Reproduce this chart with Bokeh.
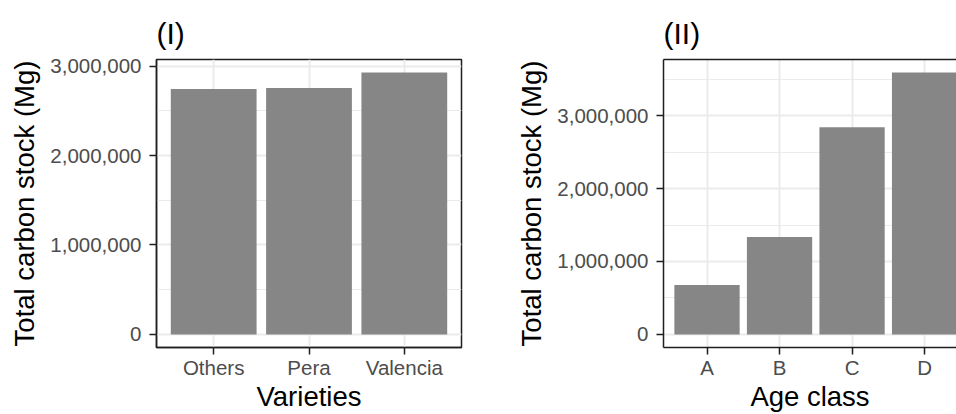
from bokeh.plotting import figure
from bokeh.layouts import row
from bokeh.models import Range1d, FixedTicker, NumeralTickFormatter, LinearAxis
from bokeh.embed import file_html
from bokeh.resources import INLINE

# ---- data ----
varieties = ["Others", "Pera", "Valencia"]
variety_stock = [2745000, 2756000, 2928000]

age_classes = ["A", "B", "C", "D"]
age_stock = [677000, 1334000, 2842000, 3590000]

y_ticks_1 = [0, 1000000, 2000000, 3000000]
y_minor_1 = [500000, 1500000, 2500000]
y_ticks_2 = [0, 1000000, 2000000, 3000000]
y_minor_2 = [500000, 1500000, 2500000, 3500000]

y_title = "Total carbon stock (Mg)"

FONT = "Liberation Sans"
BAR = "#868686"
GRID = "#EBEBEB"
DARK = "#1f1f1f"
H = 414


def panel(title, cats, vals, xlabel, yt, ym, width, left, right, x_end, outline):
    xs = list(range(1, len(cats) + 1))
    ymax = max(vals)
    p = figure(width=width, height=H,
               x_range=Range1d(0.4, x_end),
               y_range=Range1d(-0.05 * ymax, 1.05 * ymax),
               output_backend="svg", toolbar_location=None,
               min_border_left=left, min_border_right=right,
               min_border_top=59, min_border_bottom=66)
    p.background_fill_color = "white"
    p.border_fill_color = "white"
    p.vbar(x=xs, top=vals, bottom=0, width=0.9, fill_color=BAR, line_color=None)

    p.xaxis.ticker = FixedTicker(ticks=xs)
    p.xaxis.major_label_overrides = {x: c for x, c in zip(xs, cats)}
    p.yaxis.ticker = FixedTicker(ticks=yt, minor_ticks=ym)
    p.yaxis.formatter = NumeralTickFormatter(format="0,0")

    p.xaxis.axis_label = xlabel
    p.yaxis.axis_label = y_title
    for ax in p.axis:
        ax.major_tick_out = 7
        ax.major_tick_in = 0
        ax.minor_tick_out = 0
        ax.minor_tick_in = 0
        ax.major_tick_line_color = DARK
        ax.major_tick_line_width = 1.5
        ax.axis_line_color = DARK
        ax.axis_line_width = 1.5
        ax.major_label_text_font = FONT
        ax.major_label_text_font_size = "20.5px"
        ax.major_label_text_color = "#4D4D4D"
        ax.axis_label_text_font = FONT
        ax.axis_label_text_font_size = "27.5px"
        ax.axis_label_text_font_style = "normal"
        ax.axis_label_text_color = "black"
    p.xaxis.major_label_standoff = 1
    p.xaxis.axis_label_standoff = -1
    p.yaxis.major_label_standoff = 8
    p.yaxis.axis_label_standoff = 7

    p.xgrid.grid_line_color = GRID
    p.xgrid.grid_line_width = 2
    p.ygrid.grid_line_color = GRID
    p.ygrid.grid_line_width = 2
    p.ygrid.minor_grid_line_color = GRID
    p.ygrid.minor_grid_line_width = 1

    if outline:
        p.outline_line_color = DARK
        p.outline_line_width = 1.5
    else:
        p.outline_line_color = None
        top = LinearAxis(ticker=FixedTicker(ticks=[]), major_tick_out=0, major_tick_in=0,
                         minor_tick_out=0, minor_tick_in=0,
                         major_label_text_font_size="0px",
                         axis_line_color=DARK, axis_line_width=1.5)
        p.add_layout(top, "above")

    p.title.text = title
    p.title.text_font = FONT
    p.title.text_font_size = "30px"
    p.title.text_font_style = "normal"
    p.title.text_color = "black"
    p.title.align = "left"
    p.title.standoff = 20
    return p


p1 = panel("(I)", varieties, variety_stock, "Varieties", y_ticks_1, y_minor_1,
           width=500, left=156, right=39, x_end=3.6, outline=True)
p2 = panel("(II)", age_classes, age_stock, "Age class", y_ticks_2, y_minor_2,
           width=456, left=163, right=0, x_end=4.44, outline=False)

layout = row(p1, p2)
open("out.html", "w").write(file_html(layout, INLINE))
